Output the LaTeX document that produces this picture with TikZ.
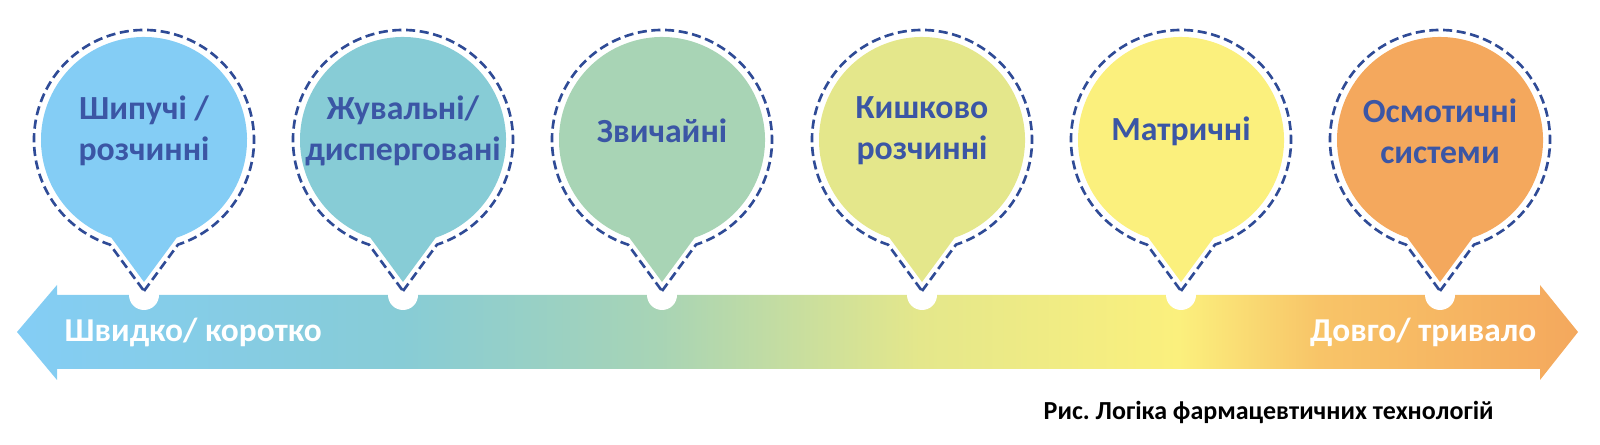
\documentclass[tikz,border=0pt]{standalone}
\usepackage{fontspec}
\setmainfont{Carlito}
\definecolor{pinline}{HTML}{2F4B96}
\definecolor{pintext}{HTML}{3B56A5}
\definecolor{cA}{HTML}{84CDF5}
\definecolor{cB}{HTML}{87CCD6}
\definecolor{cC}{HTML}{A8D4B5}
\definecolor{cD}{HTML}{E4E78B}
\definecolor{cE}{HTML}{FBF07D}
\definecolor{cG}{HTML}{F8C468}
\definecolor{cF}{HTML}{F4A85D}
\pgfdeclarehorizontalshading{timeband}{100bp}{color(0bp)=(cA); color(25bp)=(cA); color(37.3bp)=(cB); color(45.6bp)=(cC); color(53.9bp)=(cD); color(62.2bp)=(cE); color(66.7bp)=(cG); color(75bp)=(cF); color(100bp)=(cF)}
\frenchspacing
\begin{document}
\begin{tikzpicture}[
        pin line/.style={pinline, line width=0.75pt, dash pattern=on 2.6pt off 1.3pt, line join=round},
        pin text/.style={text=pintext, align=center, inner sep=0pt, font=\bfseries\fontsize{9.6}{11.7}\selectfont},
        band text/.style={text=white, inner sep=0pt, font=\bfseries\fontsize{9.5}{11}\selectfont}
    ]
        \useasboundingbox (0,0) rectangle (16,4.45);
        \coordinate (L) at (0.17,1.13);
        \coordinate (R) at (15.78,1.13);
        \shade[shading=timeband] (L) -- (0.57,1.60) -- (0.57,1.50) -- (15.40,1.50) -- (15.40,1.60) -- (R)
            -- (15.40,0.65) -- (15.40,0.76) -- (0.57,0.76) -- (0.57,0.65) -- cycle;
        \foreach \x/\c/\t [count=\i] in {1.44/cA/{Шипучі /\\розчинні}, 4.03/cB/{Жувальні/\\дисперговані},
                6.62/cC/{Звичайні}, 9.22/cD/{Кишково\\розчинні}, 11.81/cE/{Матричні}, 14.40/cF/{Осмотичні\\системи}} {
            \fill[white] (\x,1.50) circle (0.15);
            \draw[pin line] (\x,1.54) -- ([shift={(-72:1.10)}]\x,3.05) arc[start angle=-72, end angle=252, radius=1.10] -- cycle;
            \fill[\c] (\x,1.63) -- ([shift={(-71.5:1.03)}]\x,3.05) arc[start angle=-71.5, end angle=251.5, radius=1.03] -- cycle;
            \node[pin text] (pin\i) at (\x,3.14) {\t};
        }
        \node[band text, anchor=base west] (fast) at (0.64,1.03) {Швидко/ коротко};
        \node[band text, anchor=base east] (slow) at (15.37,1.03) {Довго/ тривало};
        \node[anchor=base west, inner sep=0pt, font=\bfseries\fontsize{7.4}{9}\selectfont] (caption) at (10.43,0.25) {Рис. Логіка фармацевтичних технологій};
    \end{tikzpicture}
\end{document}
